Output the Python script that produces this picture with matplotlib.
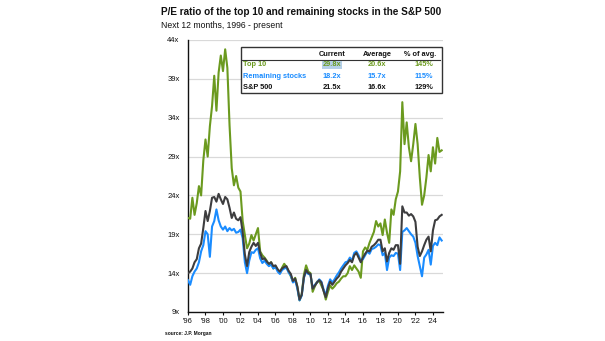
import numpy as np
import matplotlib
matplotlib.use("Agg")
import matplotlib.pyplot as plt
from matplotlib.patches import Rectangle
from matplotlib.lines import Line2D

plt.rcParams["font.family"] = ["Liberation Sans", "DejaVu Sans"]

# quarterly forward P/E, Q1 1996 .. Q4 2024, plus latest reading
top10 = [
    21.1, 21.0, 23.7, 21.5,  23.0, 25.2, 24.0, 28.5,  31.2, 29.0, 32.9, 35.5,
    39.4, 34.9, 39.8, 42.0,  40.0, 42.8, 40.4, 33.0,  27.5, 25.3, 26.5, 25.0,
    24.5, 20.7, 18.9, 17.2,  17.8, 18.9, 18.2, 19.0,  19.8, 16.8, 16.3, 16.0,
    15.6, 15.0, 15.4, 14.6,  14.9, 14.4, 14.0, 14.7,  15.2, 14.8, 14.2, 13.6,
    12.9, 13.4, 12.2, 10.5,  11.3, 13.8, 15.0, 14.2,  14.0, 11.6, 12.3, 12.9,
    13.0, 12.4, 11.8, 10.6,  11.6, 12.4, 12.0, 12.3,  12.7, 12.9, 13.3, 13.6,
    13.6, 14.0, 14.9, 14.4,  15.0, 14.6, 14.2, 13.4,  16.8, 17.3, 17.0, 17.9,
    18.6, 19.3, 20.7, 20.0,  20.4, 18.9, 20.9, 19.2,  17.9, 22.2, 21.5, 23.5,
    24.5, 27.1, 36.0, 30.6,  33.4, 30.2, 28.4, 30.6,  33.2, 30.6, 26.3, 22.8,
    24.0, 26.3, 29.2, 27.1,  30.2, 28.1, 31.4, 29.6,  29.8,
]
remaining = [
    13.1, 12.5, 13.6, 14.2,  14.6, 15.4, 16.8, 17.6,  19.4, 19.0, 16.1, 20.0,
    20.7, 22.2, 20.8, 20.0,  19.6, 20.0, 19.4, 19.8,  19.5, 19.7, 19.2, 19.3,
    19.6, 18.5, 15.4, 14.0,  15.6, 16.7, 16.6, 17.0,  17.2, 15.9, 15.3, 15.6,
    15.2, 14.9, 15.1, 14.6,  14.8, 14.2, 13.9, 14.4,  14.6, 14.7, 14.1, 13.7,
    12.8, 13.1, 12.0, 10.5,  11.1, 13.4, 14.2, 13.9,  13.8, 12.1, 12.5, 12.8,
    13.2, 12.9, 11.9, 11.1,  12.4, 13.2, 12.8, 13.2,  13.7, 14.1, 14.6, 15.0,
    15.4, 15.5, 16.0, 15.6,  16.6, 16.8, 16.3, 15.6,  15.8, 16.3, 16.8, 16.5,
    17.1, 17.2, 17.4, 17.7,  17.6, 16.3, 16.6, 14.4,  16.0, 16.3, 16.2, 16.6,
    16.5, 14.4, 19.3, 19.5,  19.8, 19.4, 19.0, 18.7,  17.9, 16.2, 14.9, 13.6,
    16.0, 16.4, 17.0, 15.1,  17.5, 17.9, 17.6, 18.6,  18.2,
]
sp500 = [
    14.0, 14.2, 14.6, 15.4,  15.8, 17.2, 17.8, 19.8,  22.0, 20.7, 22.0, 23.7,
    23.8, 23.2, 24.2, 23.5,  22.9, 23.8, 23.5, 22.4,  21.1, 21.8, 21.0, 20.8,
    21.2, 19.3, 16.4, 14.9,  16.7, 17.4, 17.9, 17.5,  17.9, 16.6, 15.8, 15.9,
    15.5, 15.2, 15.4, 14.9,  15.0, 14.5, 14.2, 14.6,  14.8, 14.9, 14.3, 13.9,
    13.0, 13.3, 12.3, 10.6,  11.2, 13.5, 14.4, 14.0,  13.9, 12.0, 12.4, 12.8,
    13.1, 12.8, 11.7, 10.9,  12.1, 12.9, 12.5, 12.9,  13.3, 13.6, 14.2, 14.6,
    15.0, 15.3, 15.7, 15.4,  16.3, 16.6, 16.0, 15.4,  16.0, 16.5, 16.9, 16.8,
    17.4, 17.6, 17.9, 18.3,  18.3, 16.8, 17.2, 15.5,  16.6, 17.2, 17.0, 17.6,
    17.6, 15.2, 22.6, 21.8,  21.8, 21.4, 21.6, 21.3,  20.6, 17.4, 16.2, 16.8,
    17.6, 18.3, 18.7, 16.8,  19.5, 20.8, 20.9, 21.3,  21.5,
]

row_names = ["Top 10", "Remaining stocks", "S&P 500"]
averages = ["20.6x", "15.7x", "16.6x"]
pct_of_avg = ["145%", "115%", "129%"]
year_ticks = list(range(1996, 2025, 2))
pe_ticks = [9, 14, 19, 24, 29, 34, 39, 44]

GREEN = "#6b9a1f"
BLUE = "#1a8cff"
GRAY = "#3d3d3f"

years = 1996 + np.arange(len(top10)) / 4

W, H = 605, 341
fig = plt.figure(figsize=(W / 100, H / 100), dpi=100)


def fx(px):
    return px / W


def fy(py):
    return 1 - py / H


ax = fig.add_axes([fx(188), fy(312), fx(443) - fx(188), fy(40) - fy(312)])

ax.plot(years, top10, color=GREEN, lw=1.5, zorder=3)
ax.plot(years, remaining, color=BLUE, lw=1.5, zorder=4)
ax.plot(years, sp500, color=GRAY, lw=1.5, zorder=5)

ax.set_xlim(1996, 2025.15)
ax.set_ylim(9, 44)
ax.set_yticks(pe_ticks)
ax.set_yticklabels([f"{v}x" for v in pe_ticks])
ax.set_xticks(year_ticks)
ax.set_xticklabels([f"'{y % 100:02d}" for y in year_ticks])
ax.grid(axis="y", color="#d9d9d9", lw=0.9, zorder=0)
ax.set_axisbelow(True)
for side in ("top", "right"):
    ax.spines[side].set_visible(False)
for side in ("left", "bottom"):
    ax.spines[side].set_linewidth(1.0)
    ax.spines[side].set_color("#111111")
ax.tick_params(axis="y", length=0, pad=6, labelsize=5.5, colors="#111111")
ax.tick_params(axis="x", length=2.5, width=0.8, pad=2, labelsize=5.5, colors="#111111")

fig.text(fx(161), fy(12), "P/E ratio of the top 10 and remaining stocks in the S&P 500",
         fontsize=7.2, fontweight="bold", va="center", ha="left", color="#111111")
fig.text(fx(161), fy(25), "Next 12 months, 1996 - present",
         fontsize=6.2, va="center", ha="left", color="#111111")
fig.text(fx(165), fy(334), "source: J.P. Morgan",
         fontsize=3.5, fontweight="bold", va="center", ha="left", color="#111111")

# summary table over the plot
fig.add_artist(Rectangle((fx(240.5), fy(93)), fx(441.5) - fx(240.5), fy(47) - fy(93),
                         transform=fig.transFigure, facecolor="white",
                         edgecolor="#333333", lw=1.0, zorder=10))
fig.add_artist(Line2D([fx(242), fx(440)], [fy(59.5), fy(59.5)],
                      transform=fig.transFigure, color="#333333", lw=0.8, zorder=11))

col_x = [332, 377, 424]
headers = ["Current", "Average", "% of avg."]
header_x = [332, 377, 420]
for x, h in zip(header_x, headers):
    fig.text(fx(x), fy(54), h, fontsize=5.3, fontweight="bold", ha="center",
             va="center", color="#111111", zorder=12)

currents = [f"{s[-1]:.1f}x" for s in (top10, remaining, sp500)]
row_colors = [GREEN, BLUE, "#111111"]
row_y = [65, 76.5, 87.5]
for i in range(3):
    c = row_colors[i]
    y = fy(row_y[i])
    fig.text(fx(243), y, row_names[i], fontsize=5.3, fontweight="bold",
             ha="left", va="center", color=c, zorder=12)
    bbox = None
    if i == 0:
        bbox = dict(boxstyle="square,pad=0.05", facecolor="#b5d0e8", edgecolor="none")
    fig.text(fx(col_x[0]), y, currents[i], fontsize=5.3, fontweight="bold",
             ha="center", va="center", color=c, zorder=12, bbox=bbox)
    fig.text(fx(col_x[1]), y, averages[i], fontsize=5.3, fontweight="bold",
             ha="center", va="center", color=c, zorder=12)
    fig.text(fx(col_x[2]), y, pct_of_avg[i], fontsize=5.3, fontweight="bold",
             ha="center", va="center", color=c, zorder=12)

fig.savefig("out.png", dpi=100)
